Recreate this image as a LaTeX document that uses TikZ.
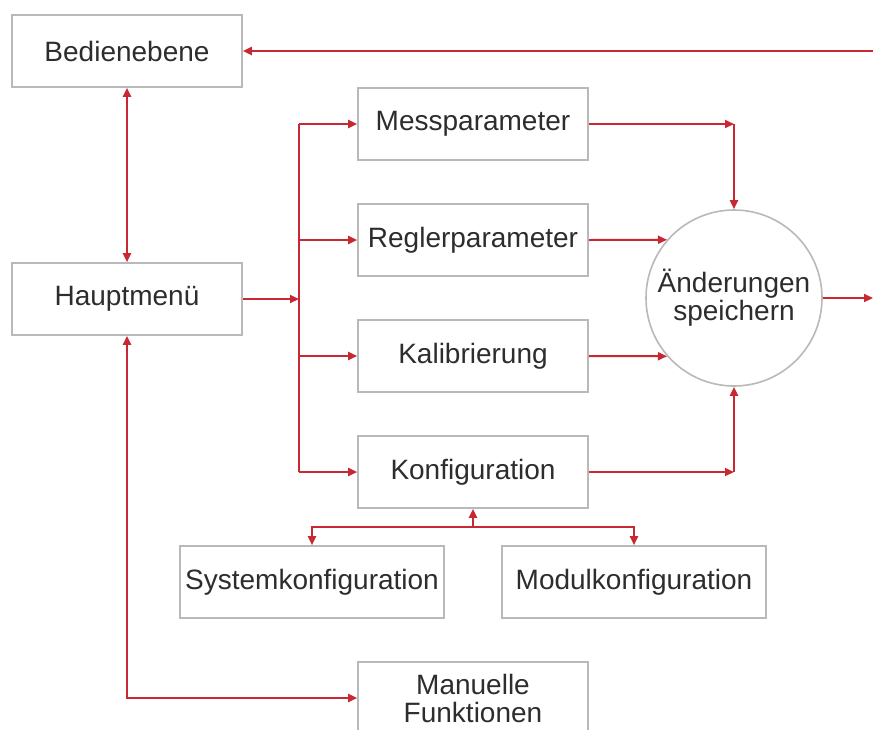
\documentclass[tikz,border=0pt]{standalone}
\usepackage{fontspec}
\setmainfont{Liberation Sans}
\usetikzlibrary{arrows.meta}
\definecolor{linered}{RGB}{200,40,50}
\definecolor{boxgray}{RGB}{185,185,185}
\definecolor{textgray}{RGB}{45,45,45}
\tikzset{>={Triangle[length=4.5pt, width=4pt]}}
\tikzset{box/.style = {draw = boxgray, line width = 0.8pt, fill = white,
                       minimum width = 115pt, minimum height = 36pt, inner sep = 0,
                       text = textgray, font = \fontsize{14}{14}\selectfont}}
\tikzset{widebox/.style = {box, minimum width = 132pt}}
\tikzset{link/.style = {draw = linered, line width = 1pt}}

\begin{document}
\begin{tikzpicture}[x = 0.5pt, y = -0.5pt]
    \clip (0, 0) rectangle (873, 729);
    \fill [white] (0, 0) rectangle (873, 729);
    \node [box] (bedien) at (127, 51) {Bedienebene};
    \node [box] (haupt) at (127, 299) {Hauptmenü};
    \node [box] (mess) at (473, 124) {Messparameter};
    \node [box] (regler) at (473, 240) {Reglerparameter};
    \node [box] (kalib) at (473, 356) {Kalibrierung};
    \node [box] (konfig) at (473, 472) {Konfiguration};
    \node [widebox] (system) at (312, 582) {Systemkonfiguration};
    \node [widebox] (modul) at (634, 582) {Modulkonfiguration};
    \node [box, align = center] (manuell) at (473, 698) {Manuelle\\Funktionen};
    \node [box, circle, minimum size = 88pt, align = center] (speichern) at (734, 298) {Änderungen\\speichern};
    \coordinate (bus) at (299, 299);
    \coordinate (split) at (473, 527);
    \coordinate (rueck) at (873, 51);
    \coordinate (aus) at (873, 298);
    \coordinate (messeck) at (speichern.north |- mess);
    \coordinate (konfeck) at (speichern.south |- konfig);
    \draw [link, <->] (bedien) -- (haupt);
    \draw [link, ->] (rueck) -- (bedien);
    \draw [link, ->] (haupt) -- (bus);
    \draw [link] (bus |- mess) -- (bus |- konfig);
    \foreach \n in {mess, regler, kalib, konfig}
        \draw [link, ->] (bus |- \n) -- (\n);
    \draw [link, ->] (mess) -- (messeck);
    \draw [link, ->] (messeck) -- (speichern);
    \draw [link, ->] (regler.east) -- (speichern.139);
    \draw [link, ->] (kalib.east) -- (speichern.221);
    \draw [link, ->] (konfig) -- (konfeck);
    \draw [link, ->] (konfeck) -- (speichern);
    \draw [link, ->] (speichern) -- (aus);
    \draw [link, ->] (split) -- (konfig);
    \draw [link, ->] (split) -| (system);
    \draw [link, ->] (split) -| (modul);
    \draw [link, <->] (haupt) |- (manuell);
\end{tikzpicture}
\end{document}
